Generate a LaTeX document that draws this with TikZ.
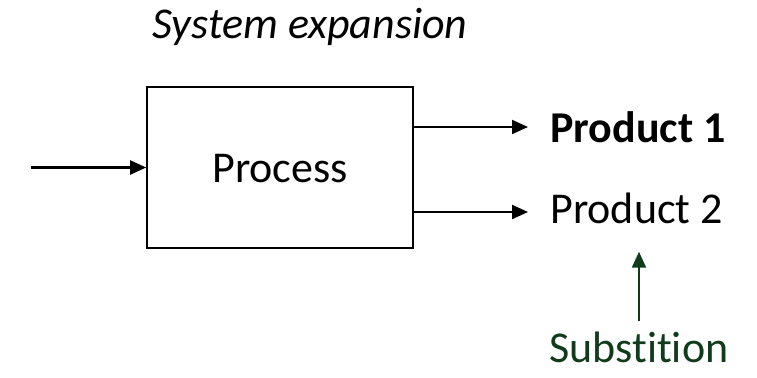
\documentclass[tikz,border=0pt]{standalone}
\usepackage{fontspec}
\setmainfont{Carlito}[Ligatures=NoCommon]
\usepackage{xcolor}
\usetikzlibrary{arrows.meta}
\definecolor{subgreen}{RGB}{16,60,28}

\begin{document}
\begin{tikzpicture}[x=0.5pt, y=-0.5pt,
		font=\fontsize{22}{26}\selectfont,
		arr/.style={-{Triangle[length=8pt,width=7pt]}, line width=1.1pt},
		label/.style={anchor=base west, inner xsep=11pt, inner ysep=0pt}]
	\useasboundingbox (0,0) rectangle (757,377);
	
	% Title
	\node[anchor=base, font=\fontsize{22}{26}\selectfont\itshape] (title) at (310,38) {System expansion};
	
	% Process box
	\node[draw, line width=0.8pt, minimum width=133pt, minimum height=80.5pt] (proc) at (280,167.5) {};
	\node[anchor=base] (proctext) at (280,182) {Process};
	
	% Input
	\coordinate (in) at (31,167.5);
	\draw[arr] (in) -- (proc.west);
	
	% Products
	\node[label, font=\fontsize{22}{26}\selectfont\bfseries] (p1) at (528,142) {Product 1};
	\node[label] (p2) at (528,223) {Product 2};
	\coordinate (out1) at (proc.east |- 0,127);
	\coordinate (out2) at (proc.east |- 0,212);
	\draw[arr] (out1) -- (out1 -| p1.west);
	\draw[arr] (out2) -- (out2 -| p2.west);
	
	% Substitution
	\node[anchor=base, inner sep=0pt, text=subgreen] (sub) at (639,362) {Substition};
	\draw[arr, subgreen, shorten <=5pt, shorten >=14pt] (sub.north) -- (sub.north |- p2.south);
	
\end{tikzpicture}
\end{document}
